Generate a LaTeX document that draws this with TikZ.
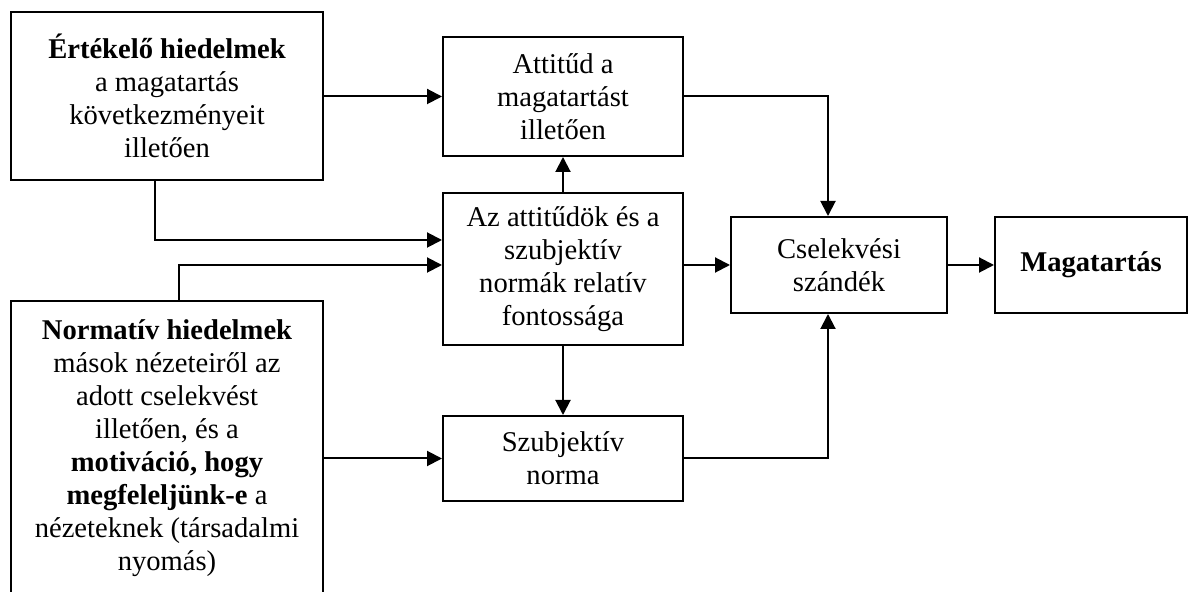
\documentclass[tikz,border=0pt]{standalone}
\usepackage{fontspec}
\setmainfont{Liberation Serif}
\usetikzlibrary{arrows.meta,calc}
\begin{document}
\begin{tikzpicture}[x=0.5pt,y=-0.5pt,
  box/.style={draw,line width=1pt,inner sep=0pt,align=center,font=\fontsize{14.3pt}{16.5pt}\selectfont},
  conn/.style={line width=1pt,-{Triangle[length=7.5pt,width=7.5pt]}}]
\useasboundingbox (0,0) rectangle (1188,592);
\clip (0,0) rectangle (1188,592);
\node[box,minimum width=156pt,minimum height=84pt] (A) at (167,96)
  {\textbf{Értékelő hiedelmek}\\a magatartás\\következményeit\\illetően};
\node[box,minimum width=120pt,minimum height=59.5pt] (B) at (563,96.5)
  {Attitűd a\\magatartást\\illetően};
\node[box,minimum width=120pt,minimum height=76pt] (C) at (563,269)
  {Az attitűdök és a\\szubjektív\\normák relatív\\fontossága};
\node[box,minimum width=156pt,minimum height=147pt] (D) at (167,448)
  {\textbf{Normatív hiedelmek}\\mások nézeteiről az\\adott cselekvést\\illetően, és a\\\textbf{motiváció, hogy}\\\textbf{megfeleljünk-e} a\\nézeteknek (társadalmi\\nyomás)};
\node[box,minimum width=120pt,minimum height=42.5pt] (E) at (563,458.5)
  {Szubjektív\\norma};
\node[box,minimum width=108pt,minimum height=48pt] (F) at (839,265)
  {Cselekvési\\szándék};
\node[box,minimum width=96pt,minimum height=48pt] (G) at (1091,265)
  {\textbf{Magatartás}};
\draw[conn] (A.east |- B.west) -- (B.west);
\draw[conn] ($(A.south)+(-12,0)$) |- ($(C.west)+(0,-29)$);
\draw[conn] ($(D.north)+(12,0)$) |- ($(C.west)+(0,-4)$);
\draw[conn] (C.north) -- (B.south);
\draw[conn] (C.south) -- (E.north);
\draw[conn] (C.east |- F.west) -- (F.west);
\draw[conn] (B.east) -| ($(F.north)+(-11,0)$);
\draw[conn] (E.east) -| ($(F.south)+(-11,0)$);
\draw[conn] (D.east |- E.west) -- (E.west);
\draw[conn] (F.east) -- (G.west);
\end{tikzpicture}
\end{document}
